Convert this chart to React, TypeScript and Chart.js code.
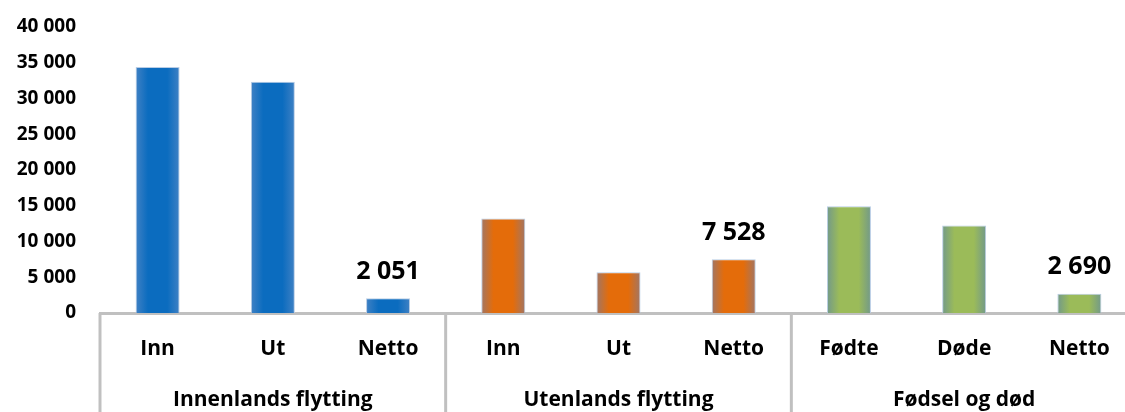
import React, { useEffect, useRef } from "react";
import { Chart, registerables } from "chart.js";

Chart.register(...registerables);

const categories = ["Inn", "Ut", "Netto", "Inn", "Ut", "Netto", "Fødte", "Døde", "Netto"];
const values = [34400, 32349, 2051, 13210, 5682, 7528, 14930, 12240, 2690];
const groups = ["Innenlands flytting", "Utenlands flytting", "Fødsel og død"];
const groupSpans = [3, 3, 3];
const labelledIndices = [2, 5, 8];
const yTicksMax = 40000;
const yTickStep = 5000;

const groupCenterColors = ["#0b6cbf", "#e46c0a", "#9bbb59"];
const groupEdgeColors = ["#4081c4", "#a07666", "#72998a"];

const FONT = "'Open Sans', 'Noto Sans', sans-serif";
const BAR_PCT = 0.382;

function fmt(v: number): string {
  return String(Math.round(v)).replace(/\B(?=(\d{3})+(?!\d))/g, " ");
}

function groupOfIndex(i: number): number {
  let acc = 0;
  for (let g = 0; g < groupSpans.length; g++) {
    acc += groupSpans[g];
    if (i < acc) return g;
  }
  return groupSpans.length - 1;
}

const axisDecor = {
  id: "axisDecor",
  afterDraw(chart: any) {
    const xs = chart.scales.x;
    const ctx = chart.ctx;
    const catW = xs.width / categories.length;
    ctx.save();
    ctx.strokeStyle = "#c0c0c0";
    ctx.lineWidth = 3;
    let start = 0;
    for (let g = 0; g <= groupSpans.length; g++) {
      const x = xs.getPixelForValue(Math.min(start, categories.length - 1)) +
        (start >= categories.length ? catW / 2 : -catW / 2);
      ctx.beginPath();
      ctx.moveTo(x, xs.top);
      ctx.lineTo(x, chart.height);
      ctx.stroke();
      if (g < groupSpans.length) start += groupSpans[g];
    }
    ctx.fillStyle = "#000";
    ctx.font = `bold 21px ${FONT}`;
    ctx.textAlign = "center";
    ctx.textBaseline = "alphabetic";
    start = 0;
    for (let g = 0; g < groups.length; g++) {
      const first = xs.getPixelForValue(start);
      const last = xs.getPixelForValue(start + groupSpans[g] - 1);
      ctx.fillText(groups[g], (first + last) / 2, 406);
      start += groupSpans[g];
    }
    ctx.restore();
  },
};

const valueLabels = {
  id: "valueLabels",
  afterDatasetsDraw(chart: any) {
    const meta = chart.getDatasetMeta(0);
    const ctx = chart.ctx;
    ctx.save();
    ctx.fillStyle = "#000";
    ctx.font = `bold 25px ${FONT}`;
    ctx.textAlign = "center";
    ctx.textBaseline = "alphabetic";
    for (const i of labelledIndices) {
      const el = meta.data[i];
      if (!el) continue;
      ctx.fillText(fmt(values[i]), el.x, el.y - 19.5);
    }
    ctx.restore();
  },
};

export default function App() {
  const ref = useRef<HTMLCanvasElement | null>(null);

  useEffect(() => {
    if (!ref.current) return;
    const chart = new Chart(ref.current, {
      type: "bar",
      data: {
        labels: categories,
        datasets: [
          {
            data: values,
            backgroundColor: (c: any) => {
              const g = groupOfIndex(c.dataIndex ?? 0);
              const chart = c.chart;
              const xs = chart.scales?.x;
              if (!xs || !chart.chartArea || c.dataIndex === undefined) return groupCenterColors[g];
              const cx = xs.getPixelForValue(c.dataIndex);
              const w = (xs.width / categories.length) * BAR_PCT;
              const grad = chart.ctx.createLinearGradient(cx - w / 2, 0, cx + w / 2, 0);
              grad.addColorStop(0, groupEdgeColors[g]);
              grad.addColorStop(0.28, groupCenterColors[g]);
              grad.addColorStop(0.72, groupCenterColors[g]);
              grad.addColorStop(1, groupEdgeColors[g]);
              return grad;
            },
            borderColor: "#b9cde5",
            borderWidth: 1,
            categoryPercentage: 1,
            barPercentage: BAR_PCT,
          },
        ],
      },
      options: {
        responsive: false,
        animation: false,
        devicePixelRatio: 1,
        layout: { padding: { top: 27, left: 0, right: 0, bottom: 0 } },
        plugins: {
          legend: { display: false },
          tooltip: { enabled: false },
          title: { display: false },
        },
        scales: {
          x: {
            type: "category",
            offset: true,
            grid: { display: false, drawTicks: false },
            border: { display: true, color: "#c0c0c0", width: 3 },
            ticks: {
              color: "#000",
              font: { family: FONT, size: 21, weight: "bold" },
              padding: 23,
              maxRotation: 0,
              autoSkip: false,
            },
            afterFit: (s: any) => {
              s.height = 99;
            },
          },
          y: {
            min: 0,
            max: yTicksMax,
            grid: { display: false, drawTicks: true, tickLength: 24, color: "rgba(0,0,0,0)" },
            border: { display: false },
            ticks: {
              stepSize: yTickStep,
              color: "#000",
              font: { family: FONT, size: 19, weight: "bold" },
              padding: 0,
              callback: (v: any) => fmt(Number(v)),
            },
            afterFit: (s: any) => {
              s.width = 100;
            },
          },
        },
      },
      plugins: [axisDecor, valueLabels],
    });
    return () => chart.destroy();
  }, []);

  return (
    <div
      style={{
        position: "absolute",
        left: 0,
        top: 0,
        width: 1125,
        height: 412,
        overflow: "hidden",
        background: "#fff",
      }}
    >
      <canvas ref={ref} width={1137} height={412} style={{ display: "block", width: 1137, height: 412 }} />
    </div>
  );
}
